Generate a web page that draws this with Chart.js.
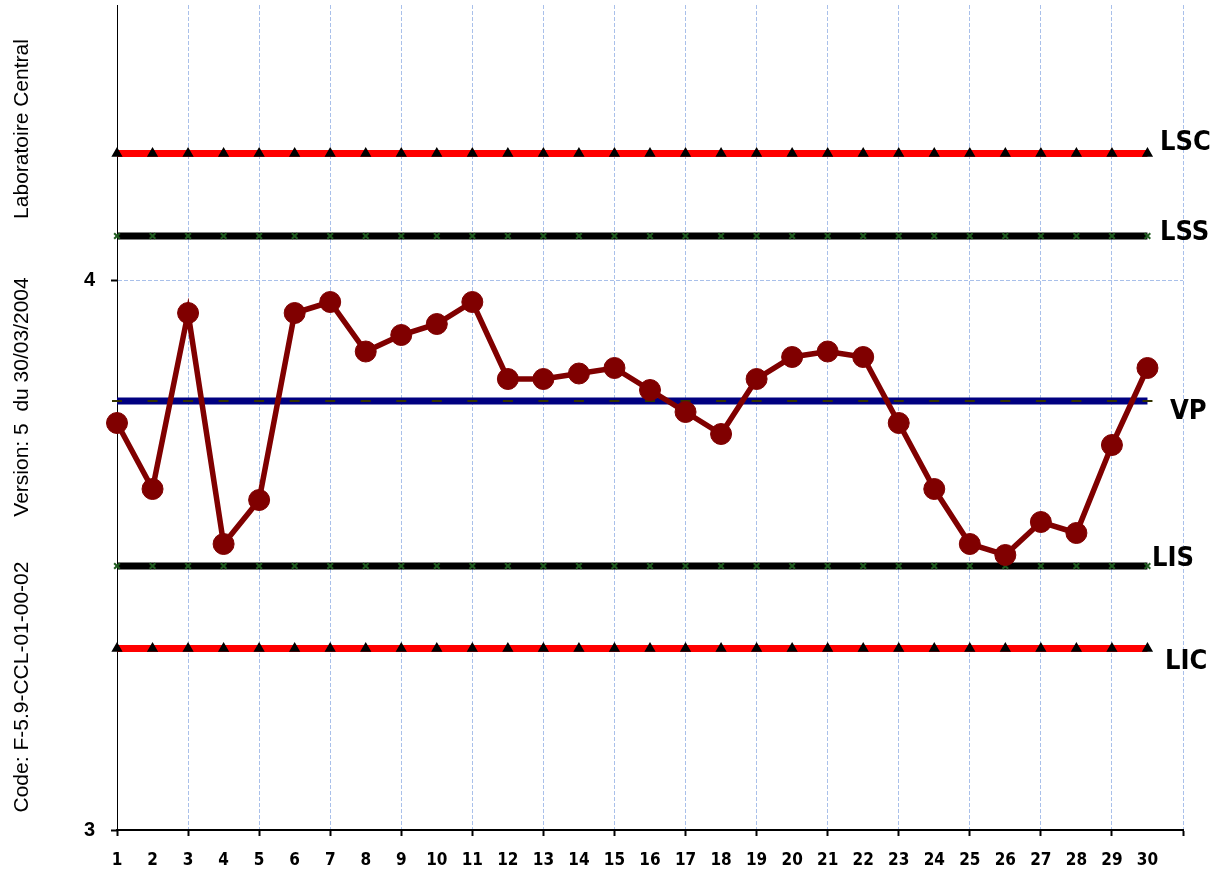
<!DOCTYPE html>
<html>
<head>
<meta charset="utf-8">
<script src="https://cdn.jsdelivr.net/npm/chart.js@4/dist/chart.umd.min.js"></script>
<style>
  html, body { margin: 0; padding: 0; background: #ffffff; }
  #wrap { width: 1216px; height: 872px; position: relative; }
</style>
</head>
<body>
<div id="wrap"><canvas id="c" width="1216" height="872"></canvas></div>
<script>
// ---- data ----
const xLabels = ['1','2','3','4','5','6','7','8','9','10','11','12','13','14','15','16','17','18','19','20','21','22','23','24','25','26','27','28','29','30',''];
const measures = [3.74, 3.62, 3.94, 3.52, 3.60, 3.94, 3.96, 3.87, 3.90, 3.92, 3.96, 3.82, 3.82, 3.83, 3.84, 3.80, 3.76, 3.72, 3.82, 3.86, 3.87, 3.86, 3.74, 3.62, 3.52, 3.50, 3.56, 3.54, 3.70, 3.84];
const lscValues = [4.23,4.23,4.23,4.23,4.23,4.23,4.23,4.23,4.23,4.23,4.23,4.23,4.23,4.23,4.23,4.23,4.23,4.23,4.23,4.23,4.23,4.23,4.23,4.23,4.23,4.23,4.23,4.23,4.23,4.23];
const lssValues = [4.08,4.08,4.08,4.08,4.08,4.08,4.08,4.08,4.08,4.08,4.08,4.08,4.08,4.08,4.08,4.08,4.08,4.08,4.08,4.08,4.08,4.08,4.08,4.08,4.08,4.08,4.08,4.08,4.08,4.08];
const vpValues  = [3.78,3.78,3.78,3.78,3.78,3.78,3.78,3.78,3.78,3.78,3.78,3.78,3.78,3.78,3.78,3.78,3.78,3.78,3.78,3.78,3.78,3.78,3.78,3.78,3.78,3.78,3.78,3.78,3.78,3.78];
const lisValues = [3.48,3.48,3.48,3.48,3.48,3.48,3.48,3.48,3.48,3.48,3.48,3.48,3.48,3.48,3.48,3.48,3.48,3.48,3.48,3.48,3.48,3.48,3.48,3.48,3.48,3.48,3.48,3.48,3.48,3.48];
const licValues = [3.33,3.33,3.33,3.33,3.33,3.33,3.33,3.33,3.33,3.33,3.33,3.33,3.33,3.33,3.33,3.33,3.33,3.33,3.33,3.33,3.33,3.33,3.33,3.33,3.33,3.33,3.33,3.33,3.33,3.33];
const yTicks = [3, 4];
const limitNames = ['LSC', 'LSS', 'VP', 'LIS', 'LIC'];
const sideTexts = ['Laboratoire Central', 'Version: 5  du 30/03/2004', 'Code: F-5.9-CCL-01-00-02'];

// ---- styling ----
const NARROW = "'Liberation Sans Narrow', 'DejaVu Sans Condensed', sans-serif";
const GRID_BLUE = '#a9c0ea';
const limitLabelStyle = {
  LSC: { x: 1160, dy: -11 },
  LSS: { x: 1160, dy: -3 },
  VP:  { x: 1170, dy: 11 },
  LIS: { x: 1152, dy: -7 },
  LIC: { x: 1165, dy: 13 }
};
const sideTextStyle = [
  { cy: 129 }, { cy: 397 }, { cy: 687 }
];

const decorPlugin = {
  id: 'decor',
  afterDraw(chart) {
    const ctx = chart.ctx;
    const ys = chart.scales.y;
    const vals = { LSC: lscValues[0], LSS: lssValues[0], VP: vpValues[0], LIS: lisValues[0], LIC: licValues[0] };
    ctx.save();
    ctx.fillStyle = '#000';
    ctx.font = "bold 27px " + NARROW;
    ctx.textAlign = 'left';
    ctx.textBaseline = 'middle';
    limitNames.forEach(n => {
      const st = limitLabelStyle[n];
      const py = ys.getPixelForValue(vals[n]) + st.dy;
      ctx.fillText(n, st.x, py);
    });
    ctx.restore();

    ctx.save();
    ctx.fillStyle = '#000';
    ctx.font = "21px 'Liberation Sans', Arial, sans-serif";
    ctx.textAlign = 'center';
    ctx.textBaseline = 'alphabetic';
    sideTexts.forEach((t, i) => {
      ctx.save();
      ctx.translate(28, sideTextStyle[i].cy);
      ctx.rotate(-Math.PI / 2);
      ctx.fillText(t, 0, 0);
      ctx.restore();
    });
    ctx.restore();
  }
};

const limitLine = (label, data, color, pStyle, pColor, pRadius, order) => ({
  label, data,
  borderColor: color, backgroundColor: pColor,
  borderWidth: 7,
  pointStyle: pStyle, pointRadius: pRadius, pointBorderColor: pColor, pointBackgroundColor: pColor,
  pointBorderWidth: 2,
  tension: 0, clip: false, order
});

new Chart(document.getElementById('c'), {
  type: 'line',
  data: {
    labels: xLabels,
    datasets: [
      {
        label: 'Mesures', data: measures,
        borderColor: '#800000', backgroundColor: '#800000',
        borderWidth: 5.5, pointRadius: 10.5, pointBorderWidth: 1,
        pointBackgroundColor: '#800000', pointBorderColor: '#800000',
        tension: 0, clip: false, order: 0
      },
      limitLine('LSC', lscValues, '#ff0000', 'triangle', '#000000', 4.5, 5),
      limitLine('LSS', lssValues, '#000000', 'crossRot', '#1e5a1e', 4, 4),
      limitLine('VP', vpValues, '#000080', 'line', '#333300', 5, 3),
      limitLine('LIS', lisValues, '#000000', 'crossRot', '#1e5a1e', 4, 2),
      limitLine('LIC', licValues, '#ff0000', 'triangle', '#000000', 4.5, 1)
    ]
  },
  options: {
    responsive: false,
    animation: false,
    devicePixelRatio: 1,
    layout: { autoPadding: false, padding: { left: 0, top: 5, right: 33, bottom: 0 } },
    plugins: { legend: { display: false }, tooltip: { enabled: false } },
    scales: {
      x: {
        type: 'category',
        offset: false,
        afterFit(s) { s.height = 42; s.paddingLeft = 0; s.paddingRight = 0; },
        grid: {
          color: c => (c.index % 2 === 0 ? GRID_BLUE : 'transparent'),
          tickColor: c => (c.index % 2 === 0 ? '#000' : 'transparent'),
          lineWidth: 1, tickWidth: 2, tickLength: 6
        },
        border: { display: true, color: '#000', width: 2, dash: [4, 2] },
        ticks: {
          autoSkip: false, maxRotation: 0, minRotation: 0,
          color: '#000', padding: 14,
          font: { family: NARROW, size: 17, weight: 'bold' }
        }
      },
      y: {
        type: 'linear', min: 3, max: 4.5,
        afterFit(s) { s.width = 117; s.paddingTop = 0; s.paddingBottom = 0; },
        afterBuildTicks(s) { s.ticks = yTicks.map(v => ({ value: v })); },
        grid: {
          color: c => (c.tick && c.tick.value === 4 ? GRID_BLUE : 'transparent'),
          tickColor: '#000', lineWidth: 1, tickWidth: 2, tickLength: 6
        },
        border: { display: true, color: '#000', width: 1, dash: [4, 2] },
        ticks: {
          color: '#000', padding: 16,
          font: { family: "'Liberation Sans', Arial, sans-serif", size: 20, weight: 'bold' }
        }
      }
    }
  },
  plugins: [decorPlugin]
});
</script>
</body>
</html>
